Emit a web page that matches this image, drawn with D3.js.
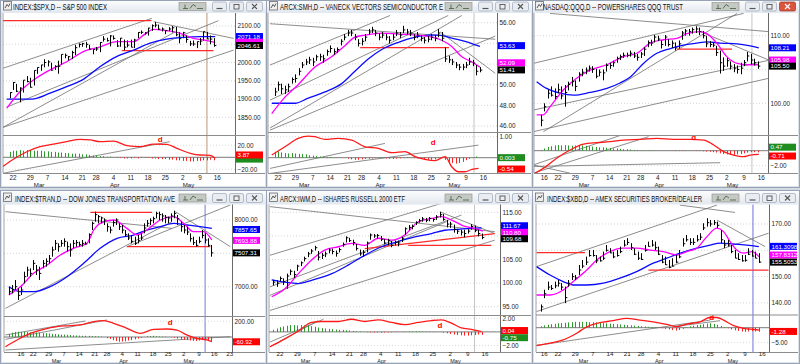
<!DOCTYPE html>
<html><head><meta charset="utf-8">
<script src="https://cdn.jsdelivr.net/npm/d3@7/dist/d3.min.js"></script>
<style>
html,body{margin:0;padding:0;background:#d3d9e2;overflow:hidden}
svg{display:block}
text{font-family:"Liberation Sans",Arial,sans-serif}
</style></head><body>
<svg id="chart" width="800" height="364"></svg>
<script>
// ---------------- DATA ----------------
// date ticks: [trading-day index, label]
const datesA = [[1,"22"],[6,"29"],[11,"7"],[16,"14"],[21,"21"],[25,"28"],[30,"4"],[35,"11"],[40,"18"],[45,"25"],[50,"2"],[55,"9"],[60,"16"]];
const monthsA = [[7,"Mar"],[29,"Apr"],[50,"May"]];
const datesB = [[0,"16"],[4,"22"],[9,"29"],[14,"7"],[19,"14"],[24,"21"],[28,"28"],[33,"4"],[38,"11"],[43,"18"],[48,"25"],[53,"2"],[58,"9"],[63,"16"]];
const datesC = [[0,"16"],[4,"22"],[9,"29"],[14,"7"],[19,"14"],[24,"21"],[28,"28"],[33,"4"],[38,"11"],[43,"18"],[48,"25"],[53,"2"],[58,"9"],[63,"16"],[68,"23"]];
const monthsB = [[10,"Mar"],[32,"Apr"],[53,"May"]];

// ---- S&P 500 ----
const spxClose = [1917.78,1945.50,1921.27,1929.80,1951.70,1948.05,1932.23,1978.35,1986.45,1993.40,1999.99,2001.76,1979.26,1989.26,1989.57,2022.19,2019.64,2015.93,2027.22,2040.59,2049.58,2051.60,2049.80,2036.71,2035.94,2037.05,2055.01,2063.95,2059.74,2072.78,2066.13,2045.17,2066.66,2041.91,2047.60,2041.99,2061.72,2082.42,2082.78,2080.73,2094.34,2100.80,2102.40,2091.48,2091.58,2087.79,2091.70,2095.15,2075.81,2065.30,2081.43,2063.37,2051.12,2050.63,2057.14,2058.69,2084.39,2064.46,2064.11,2046.61];
const spxHigh = [1918.78,1946.70,1941.57,1932.08,1951.83,1962.96,1958.27,1978.35,1986.51,1993.69,2009.13,2006.12,1999.10,1992.69,2005.08,2022.37,2024.57,2017.61,2032.02,2048.05,2052.36,2053.91,2056.60,2048.55,2036.04,2042.67,2055.91,2072.21,2067.92,2075.07,2074.02,2061.05,2067.33,2062.93,2060.63,2062.64,2065.05,2083.18,2087.84,2083.22,2094.89,2104.37,2111.05,2103.93,2095.99,2088.59,2096.87,2099.89,2097.36,2083.79,2083.87,2074.02,2059.38,2060.23,2057.72,2067.01,2084.87,2083.66,2073.97,2066.79];
const spxLow = [1902.17,1924.92,1918.94,1891.00,1917.82,1945.78,1931.81,1937.09,1968.80,1977.37,1986.77,1989.38,1977.43,1979.84,1969.25,1994.32,2011.77,2005.76,2010.04,2020.44,2041.25,2043.14,2040.57,2034.86,2022.49,2031.96,2028.31,2057.50,2057.46,2043.98,2062.57,2042.56,2043.09,2033.80,2041.69,2041.88,2039.74,2066.69,2078.13,2076.31,2073.65,2086.80,2096.32,2088.80,2085.11,2077.52,2085.80,2082.31,2071.88,2052.56,2066.52,2054.15,2045.43,2045.77,2039.45,2047.85,2059.93,2064.44,2050.37,2043.13];
const spxMaFast = [[-0.8,1875],[3,1920],[6.9,1952],[11.7,1980],[16.5,2002],[21.3,2030],[26.2,2043],[30.9,2057],[35.8,2057],[38.7,2075],[41.6,2091],[45.4,2087],[49.3,2080],[53.1,2066],[56,2062],[59.4,2055]];
const spxMaSlow = [[-0.8,1900],[6.4,1900],[11.7,1916],[16.5,1934],[21.3,1954],[26.2,1989],[30.9,2016],[35.8,2034],[40.6,2053],[45.4,2064],[50.3,2069],[55.1,2071],[59.4,2071]];
const spxMacd = [[-2,-15.6],[1.1,-3.3],[5,9.3],[8.8,17.7],[12.7,22],[16.5,26],[20.4,30],[23.3,29],[26.2,26],[30,27],[33.9,19.3],[37.7,17.7],[41.6,22],[45.4,21.7],[48.3,15],[52.2,6.7],[55,3.8],[57.9,3.3],[59.4,-1.7]];
const spxHist = [9,11,11,12,11,12,12,11,11,11,10,10,9,9,8,8,7,7,6,6,6,5,5,4,3,3,2,2,1,1,0,-1,-1,-2,-2,-2,-1,-2,-1,-1,-1,-2,-2,-3,-3,-3,-4,-4,-5,-5,-6,-6,-7,-7,-6,-6,-5,-5,-4,-5];
const spxTrend = [[-2,1984,41.1,2121],[41.6,2112,64.7,2066],[-2,1822,64.7,2034],[-2,1822,47.8,2084],[-0.8,1878,60.3,2114.5]];
const spxRed = [[-2,2114.5,41,2114.5],[32.4,2032.5,58.9,2032.5]];
const spxMacdTrend = [[-2,-26.7,46.3,26]];
const spxD = [43.5,30];
const spxPriceTicks = [1850,1900,1950,2000,2050,2100];
const spxMacdTicks = [20,-20];
const spxPriceLabels = ["2071.18","2055.42","2046.61"];
const spxMacdLabels = ["-3.00","3.87"];

// ---- SMH ----
const smhClose = [49.3,50.0,49.6,49.5,49.8,50.5,50.6,51.3,51.9,52.2,52.4,52.2,52.7,52.7,52.5,53.2,53.5,53.2,53.4,54.2,54.6,55.0,55.0,54.6,54.0,54.2,54.6,55.1,55.3,55.0,54.6,54.8,54.6,54.3,54.6,55.0,54.8,55.3,55.1,55.0,54.6,54.8,54.5,54.3,54.4,54.6,54.5,55.0,54.5,52.5,52.4,52.2,51.9,51.7,51.7,51.9,52.2,52.1,51.3,51.41];
const smhHigh = [49.7,50.3,50.1,49.9,50.1,50.7,51.0,51.6,52.2,52.5,52.7,52.6,52.9,53.0,52.9,53.4,53.8,53.5,53.6,54.4,54.9,55.3,55.3,54.9,54.4,54.5,54.9,55.4,55.6,55.3,55.0,55.1,54.9,54.7,54.9,55.3,55.1,55.7,55.4,55.3,54.9,55.1,54.8,54.6,54.7,54.9,54.8,55.4,55.1,53.6,52.8,52.5,52.2,52.0,52.0,52.2,52.6,52.4,51.9,51.7];
const smhLow = [48.9,49.4,49.1,49.1,49.3,50.1,50.2,50.9,51.6,51.9,52.0,51.8,52.3,52.3,52.1,52.8,53.1,52.9,53.1,53.8,54.3,54.7,54.7,54.3,53.7,53.8,54.2,54.8,55.0,54.7,54.3,54.5,54.3,54.0,54.3,54.7,54.5,55.0,54.8,54.7,54.3,54.5,54.2,54.0,54.1,54.3,54.2,54.6,54.2,52.2,52.1,51.9,51.6,51.4,51.4,51.6,51.9,51.8,50.9,51.2];
const smhMaFast = [[-0.8,47.2],[3,48.8],[6.8,50.0],[11.6,51.7],[16.4,52.7],[20.3,53.8],[23.1,54.6],[26,54.8],[30.8,55.0],[35.6,54.9],[40.4,54.8],[45.2,54.6],[48,54.3],[50.9,53.7],[53.8,52.7],[56.7,52.2],[59,51.7]];
const smhMaSlow = [[-0.8,48.2],[5.9,48.2],[9.7,48.7],[14.5,49.3],[19.3,50.1],[23.1,51.3],[27,52.5],[30.8,53.4],[35.6,54.1],[40.4,54.6],[44.2,54.8],[47.1,54.8],[50.9,54.5],[54.7,54.2],[59,53.7]];
const smhMacd = [[-0.8,0.13],[3,0.52],[6.8,0.92],[9.7,1.03],[11.6,1.0],[14.5,0.87],[18.3,0.92],[22.2,0.84],[26,0.52],[29.8,0.44],[33.7,0.24],[37.5,0.29],[40.4,0.05],[43.2,-0.08],[46.1,-0.14],[49,0.05],[50.9,-0.43],[52.8,-0.67],[54.7,-0.67],[56.7,-0.56],[58.6,-0.51]];
const smhHist = [0.28,0.3,0.25,0.22,0.2,0.22,0.2,0.18,0.18,0.16,0.12,0.1,0.08,0.06,0.05,0.04,0.03,0.02,0.02,0.01,0,-0.05,-0.08,-0.1,-0.1,-0.08,-0.06,-0.05,-0.03,-0.02,0.02,0.03,-0.03,-0.05,-0.06,-0.04,-0.03,0.02,0.03,0.02,-0.02,-0.04,-0.06,-0.08,-0.1,-0.1,-0.08,0.02,0.03,-0.1,-0.2,-0.25,-0.28,-0.25,-0.2,-0.12,-0.05,0.02,0.06,0.003];
const smhTrend = [[-1.3,51.9,33.2,56.7],[-1.3,55.9,63.4,54.4],[-1.3,48.5,49.9,56.7],[-1.3,45.6,63.4,54.7],[-1.3,45.8,53.8,56.7],[47.6,55.1,63.4,51.1]];
const smhRed = [[24.6,53.58,50.1,53.58]];
const smhMacdTrend = [[-1.3,-0.51,31.7,0.68],[-1.3,-0.75,58.6,0.6]];
const smhD = [45.6,0.76];
const smhPriceTicks = [46,48,50,52,54,56];
const smhMacdTicks = [1];
const smhPriceLabels = ["53.78","52.12","51.43"];
const smhPriceTexts = ["53.63","52.09","51.41"];
const smhMacdLabels = ["0.003","-0.54"];

// ---- QQQ ----
const qqqClose = [97.5,99.5,101.5,101.2,101.0,102.0,101.1,101.6,102.8,103.2,102.5,104.3,104.6,104.9,105.2,105.0,104.0,104.6,104.5,105.6,105.6,106.0,106.6,106.9,107.1,107.1,107.4,107.0,106.8,107.3,108.0,109.0,108.9,109.8,109.5,108.7,109.8,108.7,108.9,108.2,108.8,110.4,110.7,110.6,110.9,111.0,110.6,110.0,108.8,108.7,108.6,107.5,106.0,105.5,106.3,105.5,105.2,105.0,105.2,106.0,107.0,106.4,106.0,105.5];
const qqqHigh = [98.3,100.0,102.0,102.5,102.2,102.9,102.5,102.7,103.2,103.9,103.4,104.6,105.1,105.3,105.6,105.5,105.1,105.0,105.0,105.9,106.0,106.3,106.9,107.2,107.5,107.5,107.8,107.6,107.3,107.6,108.3,109.3,109.4,110.1,110.0,109.3,110.1,109.5,109.3,109.0,109.3,110.7,111.0,111.0,111.2,111.4,111.2,110.7,110.0,109.2,109.0,108.5,107.8,106.8,106.7,106.2,105.8,105.6,106.0,106.4,107.6,107.3,106.6,106.2];
const qqqLow = [96.6,98.8,100.7,101.0,100.6,101.5,100.6,99.5,101.9,102.5,101.8,103.2,104.0,104.3,104.7,104.5,103.7,104.0,103.4,104.7,105.1,105.4,106.0,106.4,106.7,106.8,106.9,106.7,106.3,106.7,107.0,108.3,108.5,109.0,109.2,108.1,108.5,108.4,108.2,107.8,108.1,109.4,110.0,110.0,110.3,110.4,110.1,109.6,108.3,108.3,108.3,107.0,104.4,104.8,105.4,105.0,104.6,104.4,104.3,105.5,106.2,105.7,105.6,105.1];
const qqqMaFast = [[-2.2,98.3],[-0.25,98.3],[1.7,99.5],[5.6,102],[9.4,103.7],[13.3,104.9],[18.2,105.7],[23,106.9],[26.9,107.4],[30.8,108.9],[34.6,109.4],[38.5,109.6],[41.4,110.3],[45.3,110.6],[47.2,110.3],[50.1,108.9],[53,106.9],[56,105.9],[58.9,105.7],[62.3,105.7]];
const qqqMaSlow = [[-2.2,103.2],[0.7,102.2],[4.6,101.5],[8.5,101.2],[13.3,101.6],[18.2,102.2],[22,103.0],[25,103.9],[28.8,105.9],[32.7,107.4],[36.6,108.1],[40.4,108.6],[44.3,108.9],[47.2,109.1],[51.1,108.9],[56,108.8],[59.8,108.5],[62.3,108.2]];
const qqqMacd = [[-2.7,-3.0],[-0.25,-2.36],[3.6,-1.0],[7.5,0.09],[11.4,0.89],[15.3,1.07],[19.1,1.2],[23,1.42],[27.9,1.51],[32.7,1.64],[37.5,1.51],[42.4,1.51],[46.3,1.42],[49.2,0.76],[52.1,-0.13],[55,-0.58],[57.9,-0.8],[59.8,-0.58],[62.3,-0.49]];
const qqqHist = [0.1,0.3,0.5,0.6,0.7,0.75,0.7,0.75,0.7,0.65,0.7,0.75,0.7,0.65,0.6,0.55,0.5,0.45,0.45,0.4,0.35,0.3,0.3,0.25,0.2,0.2,0.15,0.1,0.1,0.05,0.05,0.05,0.05,0.03,0.02,0.02,0.02,0,-0.02,-0.05,-0.05,-0.05,-0.03,-0.03,-0.02,-0.05,-0.05,-0.08,-0.12,-0.15,-0.2,-0.25,-0.35,-0.45,-0.5,-0.55,-0.55,-0.5,-0.45,-0.35,-0.25,-0.2,-0.2,-0.22];
const qqqTrend = [[-3.2,105.9,57.9,113.3],[1.7,113.3,65.2,110.6],[-3.2,99.0,65.6,106.4],[-3.2,95.8,65.2,103.7],[-0.25,95.8,56,113.3],[45.3,110.6,65.2,106.4]];
const qqqRed = [[38.5,108.0,54.5,108.0]];
const qqqMacdTrend = [[-3.2,-1.9,22.5,2.1],[-3.2,-3.0,30.3,1.87],[-3.2,-2.1,51.1,-1.6],[-3.2,-1.9,7.5,-3.0]];
const qqqD = [43.4,1.78];
const qqqPriceTicks = [100,105,110];
const qqqMacdTicks = [-2];
const qqqPriceLabels = ["108.21","106.40","105.50"];
const qqqPriceTexts = ["108.21","105.98","105.50"];
const qqqMacdLabels = ["0.47","-0.71"];

// ---- Dow Jones Transportation ----
const tranClose = [6925,6950,7000,6870,6950,7150,7250,7200,7350,7250,7200,7350,7380,7420,7550,7650,7600,7650,7680,7600,7550,7650,7660,7630,7650,7640,7780,7950,8080,8050,8030,8000,7900,7850,7960,8000,7900,7850,7780,7730,7680,7650,7690,7730,7880,7950,7990,8020,8100,8080,8060,8040,8030,8060,8100,8020,7900,7850,7820,7720,7660,7620,7680,7770,7700,7620,7507.31];
const tranHigh = [7000,7025,7100,6975,7000,7225,7300,7275,7400,7325,7300,7400,7425,7475,7600,7700,7650,7700,7725,7675,7650,7700,7700,7675,7700,7675,7800,7975,8125,8075,8050,8025,7950,7900,8000,8025,7950,7925,7850,7800,7775,7750,7775,7800,7950,8000,8025,8050,8125,8125,8100,8075,8050,8100,8140,8075,7975,7925,7900,7800,7750,7700,7750,7850,7800,7725,7625];
const tranLow = [6875,6900,6950,6800,6875,7050,7150,7150,7250,7175,7100,7275,7300,7350,7450,7550,7525,7600,7600,7525,7450,7575,7600,7600,7600,7625,7650,7850,7975,7950,7950,7925,7825,7800,7900,7925,7850,7800,7750,7700,7650,7625,7650,7700,7800,7900,7925,7950,8025,8000,7975,7950,7950,7975,8025,7925,7825,7800,7775,7675,7625,7600,7650,7725,7650,7600,7450];
const tranMaFast = [[-4,6875],[-0.2,7000],[4.1,7200],[8.5,7325],[12.8,7475],[17.1,7575],[21.5,7650],[23.7,7850],[25.8,7950],[30.2,8000],[34.5,7875],[37.8,7775],[41,7850],[45.4,8000],[49.7,8050],[53,7950],[56.2,7825],[59.5,7825],[62.2,7700]];
const tranMaSlow = [[-4,7000],[-0.2,6925],[4.1,6925],[9.5,7000],[15,7150],[20.4,7350],[25.8,7575],[31.3,7725],[36.7,7775],[41,7850],[45.4,7900],[49.7,7950],[54.1,7925],[58.4,7900],[62.2,7875]];
const tranMacd = [[-5.1,-124],[-1.3,-38],[3,47],[7.4,98],[11.7,132],[16.1,145],[20.4,162],[23.7,196],[26.9,209],[30.2,175],[34.5,111],[38.9,47],[43.2,98],[47.5,102],[50.8,89],[54,26],[57.3,-17],[60.6,-38],[62.2,-60]];
const tranHist = [40,55,65,68,65,68,65,60,62,58,55,50,48,45,40,38,35,30,30,28,25,22,20,18,16,15,15,12,10,8,5,0,-15,-25,-40,-50,-60,-58,-55,-45,-40,-30,-20,-10,0,10,12,15,10,8,5,3,0,-5,-10,-20,-30,-35,-40,-45,-50,-50,-45,-40,-42,-48,-55];
const tranTrend = [[-5.1,8125,49.2,7875],[-5.1,6675,49.2,7975],[34.5,7600,68.2,8225],[50.3,8125,68.2,7600]];
const tranRed = [[22.6,8115,42.7,8115],[34.5,7600,61.7,7600]];
const tranMacdTrend = [[-5.1,26,21,204],[-5.1,-30,28,217],[-5.1,-166,68.2,4]];
const tranD = [48.6,196];
const tranPriceTicks = [7000,7500,8000];
const tranMacdTicks = [200];
const tranPriceLabels = ["7857.65","7693.88","7507.31"];
const tranMacdLabels = ["-60.92"];

// ---- IWM ----
const iwmClose = [100.2,100.0,101.0,100.3,101.5,102.5,101.8,103.6,104.3,105.2,106.2,106.8,107.5,105.5,105.9,106.2,107.0,106.7,106.3,107.1,108.2,109.6,109.0,108.6,107.3,106.2,106.5,108.5,110.2,110.0,110.1,109.3,108.5,109.0,108.0,108.6,108.5,109.5,111.5,111.8,112.0,112.8,113.2,113.6,113.3,113.7,113.5,114.0,114.5,113.5,112.5,112.5,111.4,111.0,110.8,110.5,111.0,112.0,111.2,110.5,109.68];
const iwmHigh = [100.7,100.6,101.4,101.0,102.0,102.9,102.6,103.9,104.6,105.6,106.6,107.2,107.9,106.8,106.4,106.7,107.4,107.3,106.9,107.5,108.6,109.9,109.6,109.2,108.3,107.1,107.0,108.8,110.5,110.4,110.4,110.0,109.3,109.4,108.9,109.0,109.0,109.8,111.8,112.3,112.4,113.1,113.6,114.0,113.8,114.0,113.8,114.4,115.1,114.6,113.4,113.0,112.4,111.5,111.3,111.3,111.4,112.5,112.2,111.3,110.5];
const iwmLow = [99.5,99.2,100.4,99.6,98.8,101.7,101.1,102.6,103.6,104.6,105.5,106.2,106.9,104.8,105.1,105.5,106.3,106.1,105.6,106.5,107.7,108.6,108.7,108.0,106.9,105.8,105.6,106.5,109.2,109.6,109.4,108.9,108.2,108.0,107.6,108.0,107.8,108.7,110.2,111.2,111.4,112.3,112.8,113.0,112.9,113.1,113.0,113.4,113.9,113.2,111.8,111.7,110.7,110.4,110.1,109.7,110.5,111.3,110.8,109.9,109.3];
const iwmMaFast = [[-1.4,97.1],[2.4,98.8],[6.3,102.0],[10.1,104.9],[13.9,107.0],[17.8,107.7],[21.6,108.4],[25.4,108.0],[29.3,109.5],[33.1,109.1],[36.9,110.2],[40.8,113.0],[44.6,113.7],[47.5,114.1],[50.3,113.4],[54.2,112.0],[57,111.6],[59.4,111.0]];
const iwmMaSlow = [[-1.4,100.7],[2.4,100.2],[6.3,99.9],[10.1,100.6],[15.9,102.0],[20.6,103.8],[25.4,105.9],[30.2,107.7],[35,108.8],[39.8,109.8],[44.6,110.5],[48.4,111.2],[52.3,111.4],[56.1,111.6],[59,111.7]];
const iwmMacd = [[-1.9,-2.19],[2.4,-1.02],[6.3,0.14],[10.1,1.4],[13,1.53],[17.8,1.53],[21.6,1.86],[25.4,1.53],[29.3,1.77],[33.1,1.4],[36.9,1.07],[40.8,1.4],[44.6,1.67],[47.5,1.77],[50.3,1.3],[53.2,0.6],[56.1,0.37],[59,0.04]];
const iwmHist = [0.3,0.5,0.7,0.8,0.9,1.0,1.0,0.95,1.0,0.95,0.9,0.85,0.75,0.65,0.55,0.5,0.45,0.4,0.35,0.3,0.3,0.25,0.2,0.15,0.1,0.05,0,-0.05,-0.08,-0.1,-0.08,-0.12,-0.1,-0.08,-0.06,-0.04,-0.02,0.02,0.05,0.08,0.1,0.1,0.08,0.08,0.06,0.05,0.04,0.03,0.02,-0.1,-0.2,-0.3,-0.4,-0.45,-0.5,-0.55,-0.55,-0.5,-0.45,-0.4,-0.45];
const iwmTrend = [[-1.9,105.9,47.5,116.9],[-1.9,116.2,62.8,110.9],[-1.9,99.2,53.2,114.4],[-1.9,94.2,62.8,109.1],[-1.9,97.4,48.9,113.0],[47,115.1,62.8,110.5]];
const iwmRed = [[25.4,107.3,62.8,110.5],[37.9,108.0,61.8,108.0]];
const iwmMacdTrend = [[-1.9,-1.49,13.5,1.86],[-1.9,-2.2,12,1.67]];
const iwmD = [47,0.98];
const iwmPriceTicks = [95,100,105,110,115];
const iwmMacdTicks = [2,-2];
const iwmPriceLabels = ["112.15","110.75","109.40"];
const iwmPriceTexts = ["111.67","110.80","109.68"];
const iwmMacdLabels = ["-0.85","0.20"];
const iwmMacdTexts = ["-0.75","0.04"];

// ---- XBD ----
const xbdClose = [138.5,143.5,146,145.5,146.5,147.5,146,142,147.5,150,149.5,152.5,154,155.5,158,158,156,156,157,160,159,157.5,158,159.5,162,163,161,158.5,157,156.5,160,161.5,162,161,158.5,155.5,154.5,153.5,154,155.5,157.5,162.5,164,163,163,164,165,168.5,170.5,170,170.5,169.5,164,162,162,159.5,157,156.5,156,156.2,158.5,157.8,157,155.51];
const xbdHigh = [139.4,145.0,148.1,146.8,148.1,148.7,147.5,146.2,148.7,151.3,150.6,154.4,156.3,157.6,160.1,160.1,158.2,157.6,159.5,162.0,160.8,159.5,160.1,161.4,163.9,164.6,162.7,160.8,159.5,158.9,162.0,163.3,163.9,163.3,161.4,158.2,157.6,156.3,157.0,158.2,160.1,164.6,165.8,164.6,164.6,165.8,166.5,170.3,172.2,171.5,171.5,170.9,167.7,163.9,163.9,162.0,160.1,158.9,158.2,158.2,160.8,160.1,159.5,158.9];
const xbdLow = [136.7,141.8,144.9,144.9,145.6,146.2,144.9,139.9,146.2,148.7,148.7,150.6,153.2,154.4,157.6,157.6,155.1,155.7,156.3,159.5,158.9,157.0,157.6,158.9,161.4,162.0,160.1,158.2,156.3,156.3,159.5,161.4,161.4,160.1,158.2,155.1,154.4,153.2,153.8,155.1,157.0,161.4,163.3,162.0,162.0,163.3,163.9,167.7,169.0,169.0,169.6,168.4,162.7,160.8,161.4,158.9,157.0,156.3,155.7,155.7,158.2,157.6,157.0,155.2];
const xbdMaFast = [[-2.2,143.0],[1.7,143.0],[5.5,144.9],[8.4,148.1],[12.3,152.5],[15.2,156.3],[19,159.5],[22.9,160.8],[26.7,160.8],[30.6,160.1],[34.4,159.5],[38.3,158.2],[41.2,159.5],[44.1,160.8],[47,165.2],[49.9,168.4],[51.8,167.1],[53.7,163.3],[55.6,160.1],[57.6,158.9],[60,159.5],[62,157.6]];
const xbdMaSlow = [[-2.2,153.8],[1.7,150.6],[5.5,148.1],[8.4,146.8],[12.3,146.8],[17.1,147.5],[21.9,149.4],[26.7,151.9],[31.5,155.1],[35.4,157.0],[39.3,158.9],[44.1,160.8],[47.9,162.0],[50.8,162.7],[54.7,162.4],[58.5,162.0],[62,161.4]];
const xbdMacd = [[-2.2,-6.1],[1.7,-5.3],[5.5,-4.2],[9.4,-1.9],[12.3,0.3],[15.2,1.5],[20,2.4],[23.8,3.2],[27.7,2.6],[31.5,2.0],[35.4,1.1],[38.3,0.34],[41.2,1.25],[45,2.0],[47.9,3.5],[49.9,3.5],[51.8,2.6],[54.7,0.7],[57.6,-0.2],[60.4,-0.6],[62,-0.8]];
const xbdHist = [0.5,0.8,1.0,1.2,1.3,1.5,1.6,1.7,1.8,1.9,2.0,2.0,2.0,2.0,1.9,1.9,1.8,1.7,1.6,1.5,1.4,1.3,1.2,1.1,1.0,0.9,0.8,0.7,0.6,0.5,0.4,0.3,0.2,0.1,0,-0.2,-0.4,-0.6,-0.8,-1.0,-0.8,-0.4,0.2,0.5,0.7,0.9,1.0,1.2,1.4,1.5,1.3,1.0,0.6,0.2,-0.2,-0.6,-0.9,-1.1,-1.3,-1.4,-1.3,-1.2,-1.3,-1.4];
const xbdTrend = [[-2.2,153.8,49.9,177.2],[-2.2,136.7,64.8,166.5],[39.2,177.2,55.1,174.4],[49.9,171.5,63.8,161.4]];
const xbdRed = [[-2.2,159.1,11.8,159.1],[30.1,152.5,64.8,152.5]];
const xbdMacdTrend = [[-2.2,-6.1,47.9,2.6],[37.3,0.34,50.8,2.4]];
const xbdD = [48.4,3.75];
const xbdPriceTicks = [140,150,160,170];
const xbdMacdTicks = [-5];
const xbdPriceLabels = ["161.5","158.2","155.5053"];
const xbdPriceTexts = ["161.3098","157.8312","155.5053"];
const xbdMacdLabels = ["-1.28"];

// ---------------- LAYOUT / STYLE ----------------
const BOX3 = ["#0000ff","#ff00ff","#000000"];
const panels = [
 {title:"INDEX:$SPX,D -- S&P 500 INDEX", titleX:13, titleW:94, win:[0,0,267,188], titleBot:13, titleBase:10.2,
  plotL:3, axisX:235, priceBot:135, macdBot:173, dateBase:180.3, monthBase:186.6, dateFs:6.4, monthFs:6.2,
  xDom:[1,55], xRng:[13,200], yDom:[2100,1850], yRng:[26,117.3], mDom:[20,-20], mRng:[145.3,169.3],
  start:0, high:spxHigh, low:spxLow, close:spxClose, fast:spxMaFast, slow:spxMaSlow, macd:spxMacd, hist:spxHist,
  trend:spxTrend, red:spxRed, macdTrend:spxMacdTrend, dMark:spxD, pTicks:spxPriceTicks, mTicks:spxMacdTicks,
  dates:datesA, months:monthsA, pLabels:spxPriceLabels, mLabels:spxMacdLabels, mColors:["#1e8c1e","#ff0000"],
  vline:[57,"#b8957a"], closeBtnRed:false},
 {title:"ARCX:SMH,D -- VANECK VECTORS SEMICONDUCTOR E", titleX:280, titleW:163, win:[266,0,267,188], titleBot:13, titleBase:10.2,
  plotL:268, axisX:497, priceBot:132, macdBot:173, dateBase:180.3, monthBase:186.6, dateFs:6.4, monthFs:6.2,
  xDom:[1,55], xRng:[278,466], yDom:[56,46], yRng:[22.7,126], mDom:[1,0], mRng:[136.7,157.7],
  start:0, high:smhHigh, low:smhLow, close:smhClose, fast:smhMaFast, slow:smhMaSlow, macd:smhMacd, hist:smhHist,
  trend:smhTrend, red:smhRed, macdTrend:smhMacdTrend, dMark:smhD, pTicks:smhPriceTicks, mTicks:smhMacdTicks,
  dates:datesA, months:monthsA, pLabels:smhPriceLabels, pTexts:smhPriceTexts, mLabels:smhMacdLabels, mColors:["#1e8c1e","#ff0000"],
  vline:[57.3,"#c4c4c4"], closeBtnRed:false},
 {title:"NASDAQ:QQQ,D -- POWERSHARES QQQ TRUST", titleX:543, titleW:140, win:[532,0,268,188], titleBot:13, titleBase:10.2,
  plotL:534, axisX:768, priceBot:135, macdBot:173, dateBase:180.3, monthBase:186.6, dateFs:6.4, monthFs:6.2,
  xDom:[4,58], xRng:[558,744], yDom:[110,100], yRng:[35.7,103.3], mDom:[0,-2], mRng:[150.7,165.7],
  start:-1, high:qqqHigh, low:qqqLow, close:qqqClose, fast:qqqMaFast, slow:qqqMaSlow, macd:qqqMacd, hist:qqqHist,
  trend:qqqTrend, red:qqqRed, macdTrend:qqqMacdTrend, dMark:qqqD, pTicks:qqqPriceTicks, mTicks:qqqMacdTicks,
  dates:datesB, months:monthsB, pLabels:qqqPriceLabels, pTexts:qqqPriceTexts, mLabels:qqqMacdLabels, mColors:["#1e8c1e","#ff0000"],
  vline:[60.3,"#c4c4c4"], closeBtnRed:true},
 {title:"INDEX:$TRAN,D -- DOW JONES TRANSPORTATION AVE", titleX:15, titleW:160, win:[0,190,267,174], titleBot:204.5, titleBase:202.3,
  plotL:4, axisX:232, priceBot:316, macdBot:352, dateBase:356.3, monthBase:362.8, dateFs:6.2, monthFs:5.5,
  xDom:[4,63], xRng:[33.3,214.3], yDom:[8000,7000], yRng:[220,286.7], mDom:[200,0], mRng:[321.3,337],
  start:-4, high:tranHigh, low:tranLow, close:tranClose, fast:tranMaFast, slow:tranMaSlow, macd:tranMacd, hist:tranHist,
  trend:tranTrend, red:tranRed, macdTrend:tranMacdTrend, dMark:tranD, pTicks:tranPriceTicks, mTicks:tranMacdTicks,
  dates:datesC, months:monthsB, pLabels:tranPriceLabels, mLabels:tranMacdLabels, mColors:["#ff0000"],
  vline:[60,"#7b7bd6"], closeBtnRed:false},
 {title:"ARCX:IWM,D -- ISHARES RUSSELL 2000 ETF", titleX:280, titleW:125, win:[266,190,267,174], titleBot:204.5, titleBase:202.3,
  plotL:269, axisX:500, priceBot:315, macdBot:352, dateBase:356.3, monthBase:362.8, dateFs:6.2, monthFs:5.5,
  xDom:[1,60], xRng:[280,485], yDom:[115,95], yRng:[212.3,306.7], mDom:[2,-2], mRng:[318.3,345.5],
  start:-1, high:iwmHigh, low:iwmLow, close:iwmClose, fast:iwmMaFast, slow:iwmMaSlow, macd:iwmMacd, hist:iwmHist,
  trend:iwmTrend, red:iwmRed, macdTrend:iwmMacdTrend, dMark:iwmD, pTicks:iwmPriceTicks, mTicks:iwmMacdTicks,
  dates:datesA, months:monthsA, pLabels:iwmPriceLabels, pTexts:iwmPriceTexts, mLabels:iwmMacdLabels, mTexts:iwmMacdTexts, mColors:["#1e8c1e","#ff0000"],
  vline:[57,"#c4c4c4"], closeBtnRed:false},
 {title:"INDEX:$XBD,D -- AMEX SECURITIES BROKER/DEALER", titleX:547, titleW:155, win:[532,190,268,174], titleBot:204.5, titleBase:202.3,
  plotL:536, axisX:769, priceBot:314.5, macdBot:352, dateBase:356.3, monthBase:362.8, dateFs:6.2, monthFs:5.5,
  xDom:[4,58], xRng:[558,745], yDom:[170,140], yRng:[224,302.9], mDom:[0,-5], mRng:[327.7,342.3],
  start:-1, high:xbdHigh, low:xbdLow, close:xbdClose, fast:xbdMaFast, slow:xbdMaSlow, macd:xbdMacd, hist:xbdHist,
  trend:xbdTrend, red:xbdRed, macdTrend:xbdMacdTrend, dMark:xbdD, pTicks:xbdPriceTicks, mTicks:xbdMacdTicks,
  dates:datesB, months:monthsB, pLabels:xbdPriceLabels, pTexts:xbdPriceTexts, mLabels:xbdMacdLabels, mColors:["#ff0000"],
  vline:[60.3,"#6f6fd8"], closeBtnRed:false}
];

// ---------------- DRAW ----------------
const svg = d3.select("#chart");
const defs = svg.append("defs");
const grad = defs.append("linearGradient").attr("id","tbar").attr("x1",0).attr("y1",0).attr("x2",0).attr("y2",1);
grad.append("stop").attr("offset","0%").attr("stop-color","#fbfcfd");
grad.append("stop").attr("offset","100%").attr("stop-color","#e2e7ee");

function drawPanel(P, k) {
  const [wx, wy, ww, wh] = P.win;
  const R = wx + ww;
  const g = svg.append("g");
  g.append("rect").attr("x",wx+0.5).attr("y",wy+0.5).attr("width",ww-1).attr("height",wh-1)
    .attr("fill","#dde3eb").attr("stroke","#98a4b6");
  g.append("rect").attr("x",wx+1).attr("y",wy+1).attr("width",ww-2).attr("height",P.titleBot-wy-1).attr("fill","url(#tbar)");
  g.append("rect").attr("x",wx+2).attr("y",P.titleBot).attr("width",ww-4).attr("height",wy+wh-2-P.titleBot).attr("fill","#ffffff");
  const iy = P.titleBot - 11.5;
  g.append("rect").attr("x",wx+3.5).attr("y",iy).attr("width",8).attr("height",8.5).attr("fill","#eeeeee").attr("stroke","#6a6a6a").attr("stroke-width",0.8);
  g.append("path").attr("d",`M${wx+5},${iy+6.5}L${wx+7},${iy+3}L${wx+8.5},${iy+5}L${wx+10},${iy+2}`).attr("fill","none").attr("stroke","#333").attr("stroke-width",0.8);
  g.append("text").attr("x",P.titleX).attr("y",P.titleBase).attr("font-size",8.6).attr("fill","#101010")
    .attr("textLength",P.titleW).attr("lengthAdjust","spacingAndGlyphs").text(P.title);
  const by = P.titleBot - 10.5;
  g.append("rect").attr("x",R-88).attr("y",by).attr("width",27).attr("height",8).attr("fill","#c5c9c3").attr("stroke","#8a8a8a").attr("stroke-width",0.6);
  g.append("path").attr("d",`M${R-84},${by+6}h5M${R-82},${by+2}v4M${R-77},${by+6}l3,-4l3,2M${R-70},${by+6}h6`).attr("stroke","#3d5a3d").attr("stroke-width",0.8).attr("fill","none");
  [[R-55,14,"min"],[R-38,14,"max"],[R-21,16,"close"]].forEach(([bx,bw,t]) => {
    const red = t==="close" && P.closeBtnRed;
    g.append("rect").attr("x",bx+0.5).attr("y",by-0.5).attr("width",bw).attr("height",9).attr("rx",1.5)
      .attr("fill", red ? "#d9553e" : "#e9edf2").attr("stroke", red ? "#a03020" : "#9aa6b8").attr("stroke-width",0.7);
    const cx = bx + 0.5 + bw/2, cy = by + 4;
    const col = red ? "#ffffff" : "#555";
    if (t==="min") g.append("path").attr("d",`M${cx-3},${cy+2}h6`).attr("stroke",col).attr("stroke-width",1.2);
    if (t==="max") g.append("rect").attr("x",cx-2.5).attr("y",cy-2).attr("width",5).attr("height",4.5).attr("fill","none").attr("stroke",col).attr("stroke-width",0.9);
    if (t==="close") g.append("path").attr("d",`M${cx-2.5},${cy-2.5}L${cx+2.5},${cy+2.5}M${cx+2.5},${cy-2.5}L${cx-2.5},${cy+2.5}`).attr("stroke",col).attr("stroke-width",1.1);
  });

  const x = d3.scaleLinear().domain(P.xDom).range(P.xRng);
  const y = d3.scaleLinear().domain(P.yDom).range(P.yRng);
  const m = d3.scaleLinear().domain(P.mDom).range(P.mRng);
  const top = P.titleBot, L = P.plotL, A = P.axisX;

  defs.append("clipPath").attr("id","cp"+k).append("rect").attr("x",L).attr("y",top).attr("width",A-L).attr("height",P.priceBot-top);
  defs.append("clipPath").attr("id","cm"+k).append("rect").attr("x",L).attr("y",P.priceBot).attr("width",A-L).attr("height",P.macdBot-P.priceBot);
  const gp = g.append("g").attr("clip-path",`url(#cp${k})`);
  const gm = g.append("g").attr("clip-path",`url(#cm${k})`);

  gp.selectAll(".grid").data(P.pTicks).join("line")
    .attr("x1",L).attr("x2",A).attr("y1",d=>y(d)).attr("y2",d=>y(d))
    .attr("stroke","#c2c2c2").attr("stroke-width",0.7).attr("stroke-dasharray","1,2");
  [gp, gm].forEach(gg => gg.append("line").attr("x1",x(P.vline[0])).attr("x2",x(P.vline[0])).attr("y1",top).attr("y2",P.macdBot)
    .attr("stroke",P.vline[1]).attr("stroke-width",1));
  gp.selectAll(".tl").data(P.trend).join("line")
    .attr("x1",d=>x(d[0])).attr("y1",d=>y(d[1])).attr("x2",d=>x(d[2])).attr("y2",d=>y(d[3]))
    .attr("stroke","#707070").attr("stroke-width",0.8);
  gp.selectAll(".rl").data(P.red).join("line")
    .attr("x1",d=>x(d[0])).attr("y1",d=>y(d[1])).attr("x2",d=>x(d[2])).attr("y2",d=>y(d[3]))
    .attr("stroke","#ff2a2a").attr("stroke-width",1.3);
  const ma = d3.line().x(d=>x(d[0])).y(d=>y(d[1])).curve(d3.curveMonotoneX);
  gp.append("path").attr("d",ma(P.slow)).attr("fill","none").attr("stroke","#0a0aff").attr("stroke-width",1.3);
  gp.append("path").attr("d",ma(P.fast)).attr("fill","none").attr("stroke","#ff00ff").attr("stroke-width",1.3);
  const bars = P.close.map((c,j) => ({i:P.start+j, h:P.high[j], l:P.low[j], c:c}));
  const bx = d => Math.round(x(d.i)) + 0.5;
  gp.selectAll(".hl").data(bars).join("line")
    .attr("x1",bx).attr("x2",bx).attr("y1",d=>y(d.h)).attr("y2",d=>y(d.l))
    .attr("stroke","#000").attr("stroke-width",1);
  gp.selectAll(".cl").data(bars).join("line")
    .attr("x1",bx).attr("x2",d=>bx(d)+1.8).attr("y1",d=>y(d.c)).attr("y2",d=>y(d.c))
    .attr("stroke","#000").attr("stroke-width",1);

  gm.selectAll(".mg").data(P.mTicks).join("line")
    .attr("x1",L).attr("x2",A).attr("y1",d=>m(d)).attr("y2",d=>m(d))
    .attr("stroke","#c8c8c8").attr("stroke-width",0.7).attr("stroke-dasharray","1,2");
  gm.append("line").attr("x1",L).attr("x2",A).attr("y1",m(0)).attr("y2",m(0)).attr("stroke","#7a7a7a").attr("stroke-width",1);
  gm.selectAll(".mt").data(P.macdTrend).join("line")
    .attr("x1",d=>x(d[0])).attr("y1",d=>m(d[1])).attr("x2",d=>x(d[2])).attr("y2",d=>m(d[3]))
    .attr("stroke","#707070").attr("stroke-width",0.8);
  const hist = P.hist.map((v,j) => ({i:P.start+j, v:v}));
  gm.selectAll(".hb").data(hist).join("line")
    .attr("x1",d=>Math.round(x(d.i))+0.5).attr("x2",d=>Math.round(x(d.i))+0.5)
    .attr("y1",m(0)).attr("y2",d=>m(d.v))
    .attr("stroke",d=>d.v>=0 ? "#2a9a2a" : "#ff2020").attr("stroke-width",1);
  const ml = d3.line().x(d=>x(d[0])).y(d=>m(d[1])).curve(d3.curveMonotoneX);
  gm.append("path").attr("d",ml(P.macd)).attr("fill","none").attr("stroke","#ff1a1a").attr("stroke-width",1.3);
  gm.append("text").attr("x",x(P.dMark[0])).attr("y",m(P.dMark[1])+3).attr("text-anchor","middle")
    .attr("font-size",8).attr("font-weight","bold").attr("fill","#ff0000").text("d");

  const bc = "#8c8c8c";
  g.append("line").attr("x1",L).attr("x2",L).attr("y1",top).attr("y2",P.macdBot).attr("stroke",bc).attr("stroke-width",0.8);
  g.append("line").attr("x1",A+0.5).attr("x2",A+0.5).attr("y1",top).attr("y2",P.macdBot+1).attr("stroke","#6a6a6a").attr("stroke-width",1);
  g.append("line").attr("x1",L).attr("x2",R-2).attr("y1",P.priceBot+0.5).attr("y2",P.priceBot+0.5).attr("stroke",bc).attr("stroke-width",1);
  g.append("line").attr("x1",L).attr("x2",R-2).attr("y1",P.macdBot+0.5).attr("y2",P.macdBot+0.5).attr("stroke",bc).attr("stroke-width",1);

  const pBoxY = P.pLabels.map(s => y(+s));
  const mBoxY = P.mLabels.map(s => m(+s));
  const fmt = d3.format(".2f");
  g.selectAll(".pt").data(P.pTicks.filter(t => pBoxY.every(b => Math.abs(b - y(t)) > 7))).join("text")
    .attr("x",A+2.5).attr("y",d=>y(d)+2.2).attr("font-size",6.4).attr("fill","#222").text(d=>fmt(d));
  g.selectAll(".mtl").data(P.mTicks.filter(t => mBoxY.every(b => Math.abs(b - m(t)) > 7))).join("text")
    .attr("x",A+2.5).attr("y",d=>m(d)+2.2).attr("font-size",6.4).attr("fill","#222").text(d=>fmt(d));
  function boxes(list, ys, colors, texts) {
    list.forEach((s,j) => {
      const yy = ys[j];
      g.append("rect").attr("x",A+1).attr("y",yy-3.5).attr("width",27).attr("height",7).attr("fill",colors[j]);
      const covered = ys.some((o,q) => q > j && Math.abs(o - yy) < 4.5);
      if (!covered) g.append("text").attr("x",A+2.5).attr("y",yy+2.2).attr("font-size",6.2).attr("fill","#fff").text(texts ? texts[j] : s);
    });
  }
  boxes(P.pLabels, pBoxY, BOX3, P.pTexts);
  boxes(P.mLabels, mBoxY, P.mColors, P.mTexts);

  g.selectAll(".dl").data(P.dates).join("text")
    .attr("x",d=>x(d[0])).attr("y",P.dateBase).attr("text-anchor","middle").attr("font-size",P.dateFs).attr("fill","#222").text(d=>d[1]);
  g.selectAll(".mo").data(P.months).join("text")
    .attr("x",d=>x(d[0])).attr("y",P.monthBase).attr("font-size",P.monthFs).attr("fill","#222").text(d=>d[1]);
}

panels.forEach((P,k) => drawPanel(P,k));
</script>
</body></html>
